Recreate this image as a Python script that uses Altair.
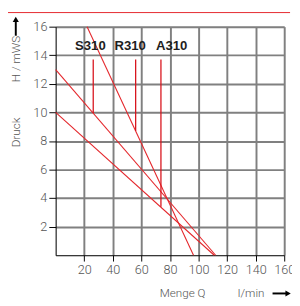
import altair as alt
import pandas as pd

# ---- data ----
pumps = ["S310", "R310", "A310"]
curve_q_start = [0, 22, 0]
curve_h_start = [13, 16, 10]
curve_q_end = [112, 96.5, 111]
curve_h_end = [0, 0, 0]
marker_q = [26.3, 56, 73.7]
marker_h_top = [13.7, 13.7, 13.7]
marker_h_bottom = [9.95, 8.7, 3.4]
label_q = [24.3, 52.2, 81.2]
label_h = [14.65, 14.65, 14.65]
x_ticks = [20, 40, 60, 80, 100, 120, 140, 160]
y_ticks = [2, 4, 6, 8, 10, 12, 14, 16]

curves = pd.DataFrame({"pump": pumps, "q": curve_q_start, "h": curve_h_start,
                       "q2": curve_q_end, "h2": curve_h_end})
markers = pd.DataFrame({"pump": pumps, "q": marker_q, "h": marker_h_top, "h2": marker_h_bottom})
labels = pd.DataFrame({"pump": pumps, "q": label_q, "h": label_h})

RED = "#e4262b"
LABEL_FONT = "Roboto"
xs = alt.Scale(domain=[0, 160], nice=False, zero=False)
ys = alt.Scale(domain=[0, 16], nice=False, zero=False)

xaxis = alt.Axis(values=x_ticks, title=None, grid=True, gridColor="#808080", gridWidth=2,
                 domainColor="#000", domainWidth=1, tickColor="#000", tickSize=6,
                 labelFont=LABEL_FONT, labelFontWeight=300, labelFontSize=13,
                 labelColor="#555", labelPadding=3, labelFlush=False, labelOverlap=False,
                 labelBound=False)
yaxis = alt.Axis(values=y_ticks, title=None, grid=True, gridColor="#808080", gridWidth=2,
                 domainColor="#000", domainWidth=1, tickColor="#000", tickSize=7,
                 labelFont=LABEL_FONT, labelFontWeight=300, labelFontSize=13,
                 labelColor="#555", labelPadding=2, labelFlush=False, labelOverlap=False,
                 labelBound=False)

X = lambda f: alt.X(f, scale=xs, axis=xaxis)
Y = lambda f: alt.Y(f, scale=ys, axis=yaxis)

curve_layer = alt.Chart(curves).mark_rule(color=RED, strokeWidth=1.1).encode(
    x=X("q:Q"), x2="q2", y=Y("h:Q"), y2="h2")

marker_layer = alt.Chart(markers).mark_rule(color="#d8121b", strokeWidth=1.3).encode(
    x=X("q:Q"), y=Y("h:Q"), y2="h2")

label_layer = alt.Chart(labels).mark_text(font="Liberation Sans", fontWeight="bold",
                                          fontSize=13.5, color="#1e1e1e", baseline="middle",
                                          align="center").encode(
    x=X("q:Q"), y=Y("h:Q"), text="pump:N")

def txt(s, x, y, angle=0, size=12):
    return alt.Chart(pd.DataFrame({"t": [s]})).mark_text(
        font=LABEL_FONT, fontWeight=300, fontSize=size, color="#555", angle=angle,
        align="center", baseline="middle").encode(x=alt.value(x), y=alt.value(y), text="t:N")

title_h = txt("H / mWS", -41, 33.3, angle=270)
title_druck = txt("Druck", -41, 108.8, angle=270)
title_menge = txt("Menge Q", 130.5, 274)
title_unit = txt("l/min", 201, 274)

one = pd.DataFrame({"a": [0]})
y_arrow_line = alt.Chart(one).mark_rule(color="#000", strokeWidth=2).encode(
    x=alt.value(-41), y=alt.value(-6), y2=alt.value(9.3))
y_arrow_head = alt.Chart(one).mark_point(shape="triangle-up", filled=True, size=40,
                                         color="#000", opacity=1).encode(
    x=alt.value(-41), y=alt.value(-7.5))
x_arrow_line = alt.Chart(one).mark_rule(color="#000", strokeWidth=2).encode(
    x=alt.value(223), x2=alt.value(237), y=alt.value(274.3))
x_arrow_head = alt.Chart(one).mark_point(shape="triangle-right", filled=True, size=40,
                                         color="#000", opacity=1).encode(
    x=alt.value(239), y=alt.value(274.3))
top_red = alt.Chart(one).mark_rule(color=RED, strokeWidth=1).encode(
    x=alt.value(-49), x2=alt.value(241), y=alt.value(-14.5))

chart = alt.layer(
    curve_layer, marker_layer, label_layer,
    title_h, title_druck, title_menge, title_unit,
    y_arrow_line, y_arrow_head, x_arrow_line, x_arrow_head, top_red
).properties(
    width=235, height=235,
    autosize=alt.AutoSizeParams(type="none"),
    padding={"left": 49, "top": 15, "right": 8, "bottom": 48},
).configure_view(stroke=None).configure(background="white")

chart.save("out.html", embed_options={"renderer": "svg", "actions": False})
